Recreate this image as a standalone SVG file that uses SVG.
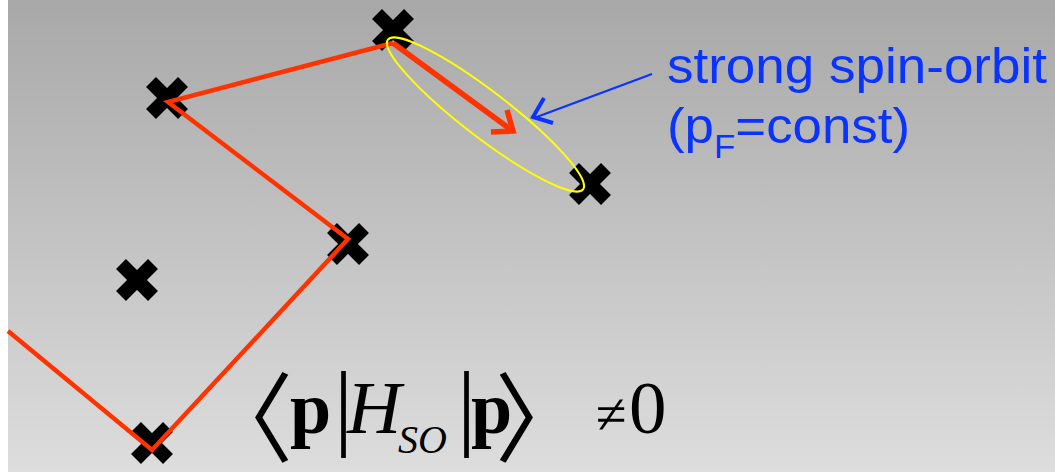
<svg xmlns="http://www.w3.org/2000/svg" width="1055" height="472" viewBox="0 0 1055 472">
  <defs>
    <linearGradient id="bg" x1="0" y1="0" x2="0" y2="1">
      <stop offset="0" stop-color="#a8a8a8"/>
      <stop offset="1" stop-color="#dddddd"/>
    </linearGradient>
    <g id="x" stroke="#000000" stroke-width="14" stroke-linecap="butt">
      <line x1="-16" y1="-16" x2="16" y2="16"/>
      <line x1="-16" y1="16" x2="16" y2="-16"/>
    </g>
  </defs>
  <style>
    .red { fill: none; stroke: #ff3300; stroke-linejoin: miter; }
    .blue { fill: none; stroke: #0a33ff; }
    .lbl { font-family: "Liberation Sans", Arial, sans-serif; fill: #0a33ff; font-size: 50px; }
    .math { font-family: "Liberation Serif", "Times New Roman", serif; fill: #000; }
    .ang { font-family: "Noto Sans CJK JP", "DejaVu Sans", sans-serif; font-size: 92px; }
  </style>
  <rect x="0" y="0" width="1055" height="472" fill="#ffffff"/>
  <rect x="8" y="0" width="1047" height="472" fill="url(#bg)"/>

  <g id="scatterers">
    <g id="s1"><use href="#x" x="393" y="30"/></g>
    <g id="s2"><use href="#x" x="167" y="98"/></g>
    <g id="s3"><use href="#x" x="348" y="244"/></g>
    <g id="s4"><use href="#x" x="137" y="280"/></g>
    <g id="s5"><use href="#x" x="590" y="184"/></g>
    <g id="s6"><use href="#x" x="152" y="443"/></g>
  </g>

  <g id="connectors">
    <polyline class="red" stroke-width="4.5" points="8,331 152,450 348,239 168,102 393,43"/>
    <line class="red" stroke-width="5.5" x1="393" y1="43" x2="510" y2="129"/>
    <polyline class="red" stroke-width="5.5" points="507,110 513,131 491,132"/>
    <line class="blue" stroke-width="2.2" x1="652" y1="74" x2="534" y2="118"/>
    <polyline class="blue" stroke-width="4" points="544,98 533,117 553,123"/>
  </g>

  <g id="region">
    <ellipse cx="485.5" cy="114.5" rx="123" ry="23" transform="rotate(37.5 485.5 114.5)" fill="none" stroke="#ffff00" stroke-width="2"/>
  </g>

  <g id="label">
    <text class="lbl" x="667" y="83" textLength="380" lengthAdjust="spacingAndGlyphs">strong spin-orbit</text>
    <text class="lbl" x="667" y="143" textLength="243" lengthAdjust="spacingAndGlyphs">(p<tspan font-size="33" dy="15">F</tspan><tspan dy="-15">=const)</tspan></text>
  </g>

  <g id="formula" class="math">
    <text class="ang" transform="translate(247 454) scale(1 1.06)" x="0" y="0" text-anchor="middle">〈</text>
    <text x="290" y="433" font-size="74" font-weight="bold">p</text>
    <text x="334" y="438" font-size="95">|</text>
    <text x="347" y="433" font-size="75" font-style="italic">H</text>
    <text x="398" y="453" font-size="40" font-style="italic">SO</text>
    <text x="457" y="438" font-size="95">|</text>
    <text x="471" y="433" font-size="74" font-weight="bold">p</text>
    <text class="ang" transform="translate(541 454) scale(1 1.06)" x="0" y="0" text-anchor="middle">〉</text>
    <text x="596" y="433" font-size="56">≠</text>
    <text x="629" y="433" font-size="75">0</text>
  </g>
</svg>
